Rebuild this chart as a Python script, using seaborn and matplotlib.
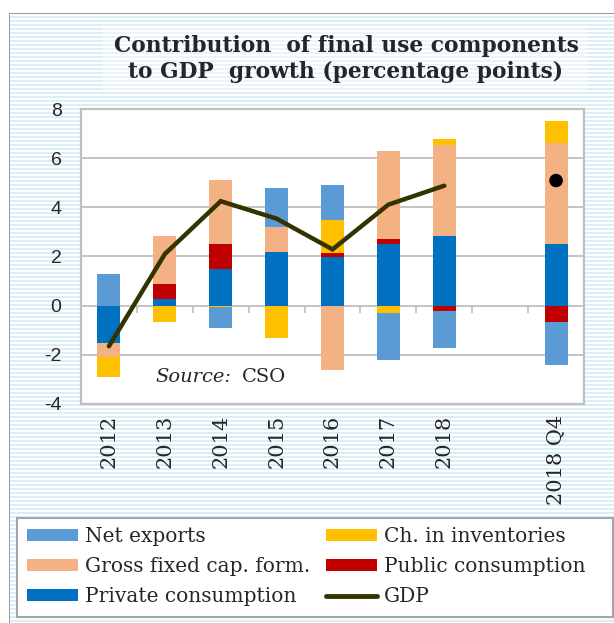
import numpy as np
import pandas as pd
import matplotlib
matplotlib.use("Agg")
import matplotlib.pyplot as plt
from matplotlib.patches import Patch, Rectangle
from matplotlib.lines import Line2D
import seaborn as sns

# ---------------- data ----------------
categories = ["2012", "2013", "2014", "2015", "2016", "2017", "2018", "2018 Q4"]
axis_order = ["2012", "2013", "2014", "2015", "2016", "2017", "2018", "", "2018 Q4"]

private_cons = [-1.52, 0.28, 1.48, 2.18, 1.99, 2.51, 2.84, 2.51]
public_cons = [0.00, 0.60, 1.03, 0.00, 0.14, 0.19, -0.21, -0.67]
gross_fixed = [-0.57, 1.96, 2.61, 1.04, -2.63, 3.58, 3.71, 4.11]
inventories = [-0.80, -0.67, -0.07, -1.33, 1.36, -0.29, 0.21, 0.91]
net_exports = [1.29, 0.00, -0.82, 1.58, 1.41, -1.93, -1.51, -1.76]

gdp_years = ["2012", "2013", "2014", "2015", "2016", "2017", "2018"]
gdp_annual = [-1.65, 2.10, 4.25, 3.54, 2.29, 4.11, 4.88]
gdp_quarter_label = ["2018 Q4"]
gdp_quarter = [5.09]

yticks = [-4, -2, 0, 2, 4, 6, 8]

title = "Contribution  of final use components\nto GDP  growth (percentage points)"

# ---------------- style ----------------
C_NX = "#5B9BD5"
C_INV = "#FFC000"
C_GFCF = "#F4B183"
C_PUB = "#C00000"
C_PC = "#0070C0"
C_GDP = "#333300"
GRID = "#BFBFBF"
SERIF = "DejaVu Serif"
SANS = "Liberation Sans"

sns.set_style("white")
plt.rcParams["font.family"] = [SERIF, "DejaVu Sans"]

W, H = 614, 623
fig = plt.figure(figsize=(W / 100, H / 100), dpi=100)

# striped background
bg = np.ones((H, W, 3))
stripe = np.array([0.86, 0.933, 0.97])
light = np.array([0.92, 0.962, 0.985])
rows = (np.arange(H) % 4) < 2
bg[rows, :, :] = stripe
for r in range(25, 90):
    if rows[r]:
        bg[r, 102:587, :] = light
bg[:13, :, :] = 1.0
bg[:, :9, :] = 1.0
bg[13, 9:, :] = 0.6
bg[13:, 9, :] = 0.6
ax_bg = fig.add_axes([0, 0, 1, 1], zorder=-10)
ax_bg.imshow(bg, aspect="auto", interpolation="nearest", extent=(0, W, H, 0))
ax_bg.axis("off")

ax = fig.add_axes([81 / W, 1 - 404 / H, 503 / W, 295 / H])
ax.set_facecolor("white")

components = [
    ("Private consumption", private_cons, C_PC),
    ("Public consumption", public_cons, C_PUB),
    ("Gross fixed cap. form.", gross_fixed, C_GFCF),
    ("Ch. in inventories", inventories, C_INV),
    ("Net exports", net_exports, C_NX),
]

n = len(categories)
pos_base = np.zeros(n)
neg_base = np.zeros(n)
for name, vals, color in components:
    v = np.asarray(vals, dtype=float)
    bottom = np.where(v >= 0, pos_base, neg_base)
    df = pd.DataFrame({"cat": categories, "val": v})
    sns.barplot(data=df, x="cat", y="val", order=axis_order, color=color,
                saturation=1, width=0.41, bottom=bottom, linewidth=0,
                errorbar=None, ax=ax, zorder=2)
    pos_base += np.clip(v, 0, None)
    neg_base += np.clip(v, None, 0)

gdp_pos = [axis_order.index(y) for y in gdp_years]
sns.lineplot(x=gdp_pos, y=gdp_annual, color=C_GDP, linewidth=3.2, ax=ax,
             zorder=4, solid_capstyle="round", solid_joinstyle="miter")
q_pos = [axis_order.index(y) for y in gdp_quarter_label]
sns.scatterplot(x=q_pos, y=gdp_quarter, color="black", s=95, edgecolor="none",
                ax=ax, zorder=5, legend=False)

ax.set_xlim(-0.5, len(axis_order) - 0.5)
ax.set_ylim(-4, 8)
ax.set_yticks(yticks)
ax.set_yticklabels([str(t) for t in yticks], fontfamily=SANS, fontsize=14)
ax.set_xticks(range(len(axis_order)))
ax.set_xticklabels(axis_order, rotation=90, fontfamily=SERIF, fontsize=15)
ax.set_xlabel("")
ax.set_ylabel("")
ax.tick_params(axis="x", length=0, pad=8)
ax.tick_params(axis="y", length=6, width=1.2, color=GRID, direction="out", pad=8)
ax.yaxis.grid(True, color=GRID, linewidth=1.3)
ax.xaxis.grid(False)
ax.set_axisbelow(True)
for s in ax.spines.values():
    s.set_visible(True)
    s.set_color(GRID)
    s.set_linewidth(1.6)

# category boundary ticks on the zero line
sec = ax.secondary_xaxis((0 - (-4)) / 12)
sec.set_xticks(np.arange(len(axis_order) - 1) + 0.5)
sec.set_xticklabels([])
sec.tick_params(length=5, width=1.2, color=GRID, direction="out")
for s in sec.spines.values():
    s.set_visible(False)

# source note
ax.annotate("Source:", xy=(0.3, 0.092), xycoords="axes fraction", ha="right",
            va="center", fontsize=14, style="italic", fontfamily=SERIF)
ax.annotate("CSO", xy=(0.3, 0.092), xycoords="axes fraction", xytext=(7, 0),
            textcoords="offset points", ha="left", va="center", fontsize=14,
            fontfamily=SERIF)

fig.text(346 / W, 1 - 59 / H, title, ha="center", va="center",
         fontsize=15.7, fontweight="bold", fontfamily=SERIF, linespacing=1.25)

# legend frame
fig.patches.append(Rectangle((17 / W, 1 - 617 / H), 596 / W, 99 / H,
                             transform=fig.transFigure, facecolor="white",
                             edgecolor="#A6A6A6", linewidth=1.5, zorder=1))

handles = [
    Patch(facecolor=C_NX, edgecolor="none"),
    Patch(facecolor=C_GFCF, edgecolor="none"),
    Patch(facecolor=C_PC, edgecolor="none"),
    Patch(facecolor=C_INV, edgecolor="none"),
    Patch(facecolor=C_PUB, edgecolor="none"),
    Line2D([0], [0], color=C_GDP, linewidth=3.5, solid_capstyle="round"),
]
labels = ["Net exports", "Gross fixed cap. form.", "Private consumption",
          "Ch. in inventories", "Public consumption", "GDP"]
leg = fig.legend(handles, labels, ncol=2, loc="upper left",
                 bbox_to_anchor=(27 / W, 1 - 527 / H),
                 frameon=False, prop={"family": SERIF, "size": 14.5},
                 handlelength=2.55, handleheight=0.5, handletextpad=0.35,
                 labelspacing=0.55, borderpad=0, borderaxespad=0,
                 columnspacing=0.75)

fig.savefig("out.png", dpi=100)
